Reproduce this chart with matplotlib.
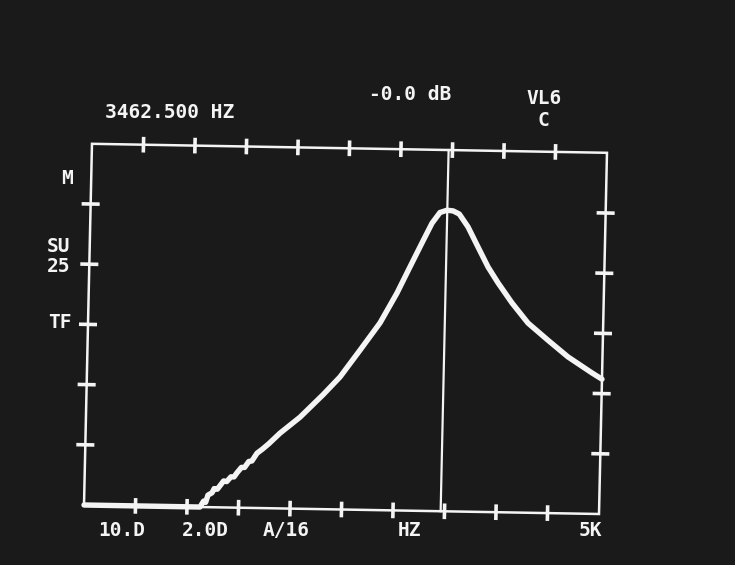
"""
Spectrum analyser screen: resonance peak at 3462.5 Hz.
Trace drawn in (Hz, dB) and mapped onto the slightly tilted CRT frame.
"""

import numpy as np
import matplotlib.pyplot as plt
from matplotlib.transforms import Affine2D

# ====================== DATA ======================
freq_hz = [0, 1126, 1160, 1180, 1201, 1240, 1260, 1290, 1316, 1350, 1380,
           1420, 1450, 1478, 1520, 1550, 1590, 1620, 1668, 1720, 1780, 1887,
           2077, 2296, 2457, 2645, 2834, 2992, 3113, 3224, 3317, 3392, 3460,
           3520, 3580, 3667, 3768, 3870, 3970, 4110, 4270, 4468, 4665, 4902,
           5000]
level_db = [-50, -50, -49.0, -49.2, -48.0, -47.6, -46.9, -47.0, -46.4, -45.6,
            -45.7, -44.9, -44.9, -44.2, -43.3, -43.3, -42.3, -42.2, -40.9,
            -40.2, -39.3, -37.5, -34.8, -31.0, -28.0, -23.5, -18.9, -13.9,
            -9.5, -5.5, -2.2, -0.4, 0.0, -0.1, -0.6, -2.7, -6.0, -9.3, -11.9,
            -15.2, -18.5, -21.3, -24.0, -26.6, -27.6]

cursor_hz = 3462.5
span_hz = (0, 5000)
ref_db = (-50, 10)          # bottom / top of graticule, 10 dB/div
n_xdiv, n_ydiv = 10, 6

header_freq = "3462.500 HZ"
header_level = "-0.0 dB"
header_mode = ["VL6", "C"]
left_labels = [("M", 67, 178), ("SU", 59, 247), ("25", 59, 267), ("TF", 60, 323)]
bottom_labels = [("10.D", 122), ("2.0D", 205), ("A/16", 286), ("HZ", 410), ("5K", 590)]

# ====================== SCREEN GEOMETRY ======================
# photo of the CRT is a bit rotated: origin + one-division vectors in pixels
ORIGIN = (84, 505)
XDIV = (51.5, 0.9)
YDIV = (1.33, -60.2)

BG = '#1a1a1a'
FG = '#f4f4f4'

fig = plt.figure(figsize=(7.35, 5.65), dpi=100, facecolor=BG)
ax = fig.add_axes([0, 0, 1, 1])
ax.set_xlim(0, 735)
ax.set_ylim(565, 0)
ax.set_facecolor(BG)
ax.axis('off')

hz_per_div = (span_hz[1] - span_hz[0]) / n_xdiv
db_per_div = (ref_db[1] - ref_db[0]) / n_ydiv
screen = Affine2D(np.array([[XDIV[0], YDIV[0], ORIGIN[0]],
                            [XDIV[1], YDIV[1], ORIGIN[1]],
                            [0, 0, 1]]))
to_div = Affine2D().translate(-span_hz[0], -ref_db[0]).scale(1 / hz_per_div, 1 / db_per_div)
tr = to_div + screen + ax.transData

# graticule frame
f0, f1 = span_hz
d0, d1 = ref_db
ax.plot([f0, f1, f1, f0, f0], [d0, d0, d1, d1, d0], color=FG, lw=1.8,
        transform=tr, solid_joinstyle='miter')

# tick crosses on each edge
tick_f = 0.14 * hz_per_div
tick_d = 0.1 * db_per_div
for k in range(1, n_xdiv):
    f = f0 + k * hz_per_div
    for d in (d0, d1):
        ax.plot([f, f], [d - tick_d, d + tick_d], color=FG, lw=2.6, transform=tr)
for k in range(1, n_ydiv):
    d = d0 + k * db_per_div
    for f in (f0, f1):
        ax.plot([f - tick_f, f + tick_f], [d, d], color=FG, lw=2.6, transform=tr)

# marker cursor
ax.plot([cursor_hz, cursor_hz], [d0, d1], color=FG, lw=1.6, transform=tr)

# trace
ax.plot(freq_hz, level_db, color=FG, lw=3.9, transform=tr,
        solid_joinstyle='round', solid_capstyle='round')

# ====================== TEXT ======================
txt = dict(color=FG, family='DejaVu Sans Mono', weight='bold', fontsize=14)
ax.text(105, 112, header_freq, ha='left', va='center', **txt)
ax.text(410, 95, header_level, ha='center', va='center', **txt)
ax.text(544, 98, header_mode[0], ha='center', va='center', **txt)
ax.text(543, 120, header_mode[1], ha='center', va='center', **txt)
for s, x, y in left_labels:
    ax.text(x, y, s, ha='center', va='center', **txt)
for s, x in bottom_labels:
    ax.text(x, 530, s, ha='center', va='center', **txt)

plt.savefig('out.png', dpi=100, facecolor=BG)
